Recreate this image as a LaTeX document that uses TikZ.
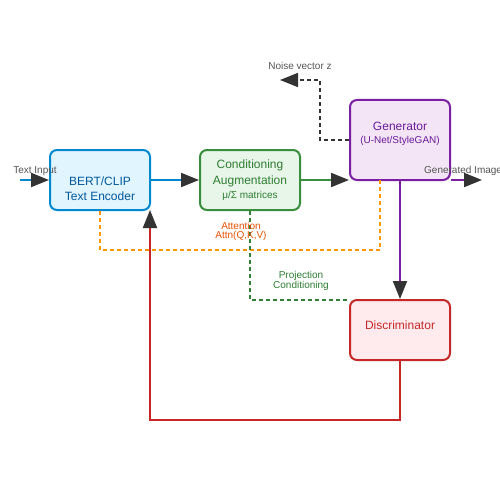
\documentclass[tikz,border=0pt]{standalone}
\usepackage{fontspec}
\setmainfont{Liberation Sans}
\usetikzlibrary{arrows.meta}
\definecolor{arrgray}{HTML}{333333}
\definecolor{lblgray}{HTML}{555555}
\definecolor{bluel}{HTML}{0288D1}
\definecolor{bluef}{HTML}{E1F5FE}
\definecolor{bluet}{HTML}{01579B}
\definecolor{greenl}{HTML}{388E3C}
\definecolor{greenf}{HTML}{E8F5E9}
\definecolor{greent}{HTML}{2E7D32}
\definecolor{purl}{HTML}{7B1FA2}
\definecolor{purf}{HTML}{F3E5F5}
\definecolor{purt}{HTML}{6A1B9A}
\definecolor{redl}{HTML}{C62828}
\definecolor{redf}{HTML}{FFEBEE}
\definecolor{orl}{HTML}{FF9800}
\definecolor{ort}{HTML}{E65100}
\begin{document}
\begin{tikzpicture}[x=1pt,y=-1pt,
  box/.style={draw, line width=2pt, rounded corners=7pt, minimum width=100pt, inner sep=0pt},
  main/.style={font=\fontsize{12}{14}\selectfont, inner sep=0pt},
  small/.style={font=\fontsize{10}{12}\selectfont, inner sep=0pt},
  arr/.style={-{Triangle[length=18pt,width=14pt,fill=arrgray,color=arrgray]}},
  conn/.style={line width=2pt},
  dconn/.style={line width=1.6pt, dash pattern=on 4pt off 3pt},
]
\useasboundingbox (0,0) rectangle (500,500);
\fill[white] (0,0) rectangle (500,500);

% boxes
\node[box, draw=bluel, fill=bluef, minimum height=60pt] (enc) at (100,180) {};
\node[box, draw=greenl, fill=greenf, minimum height=60pt] (ca) at (250,180) {};
\node[box, draw=purl, fill=purf, minimum height=80pt] (gen) at (400,140) {};
\node[box, draw=redl, fill=redf, minimum height=60pt] (dis) at (400,330) {};

% box texts
\node[main, text=bluet] (encA) at (100,181) {BERT/CLIP};
\node[main, text=bluet] (encB) at (100,196) {Text Encoder};
\node[main, text=greent] (caA) at (250,165) {Conditioning};
\node[main, text=greent] (caB) at (250,181) {Augmentation};
\node[small, text=greent] (caC) at (250,196) {μ/Σ matrices};
\node[main, text=purt] (genA) at (400,126) {Generator};
\node[small, text=purt] (genB) at (400,141) {(U-Net/StyleGAN)};
\node[main, text=redl] (disA) at (400,325) {Discriminator};

% coordinates
\coordinate (tin) at (20,180);
\coordinate (gout) at (482,180);
\coordinate (nz) at (280,80);
\coordinate (n1) at (320,140);
\coordinate (n2) at (320,80);

% solid connectors
\draw[conn, bluel, arr] (tin) -- (enc.west);
\draw[conn, bluel, arr] (enc.east) -- (ca.west);
\draw[conn, greenl, arr] (ca.east) -- (gen.west |- ca.east);
\draw[conn, purl, arr] (gen.south) -- (dis.north);
\draw[conn, purl, arr] (gen.east |- gout) -- (gout);
\draw[conn, redl, arr] (dis.south) -- (400,420) -- (150,420) -- (150,210);

% dashed connectors
\draw[dconn, arrgray, arr] (gen.west) -- (n1) -- (n2) -- (nz);
\draw[dconn, orl] (enc.south) -- (100,250) -- (380,250) -- (380,180);
\draw[dconn, greenl!90!black] (ca.south) -- (250,300) -- (350,300);

% labels
\node[small, text=lblgray] (ltin) at (35,171) {Text Input};
\node[small, text=lblgray, anchor=west] (lgen) at (424,171) {Generated Image};
\node[small, text=lblgray] (lnz) at (300,66) {Noise vector z};
\node[small, text=ort] (lat1) at (241,226) {Attention};
\node[small, text=ort] (lat2) at (241,236) {Attn(Q,K,V)};
\node[small, text=greent] (lpr1) at (301,276) {Projection};
\node[small, text=greent] (lpr2) at (301,286) {Conditioning};
\end{tikzpicture}
\end{document}
